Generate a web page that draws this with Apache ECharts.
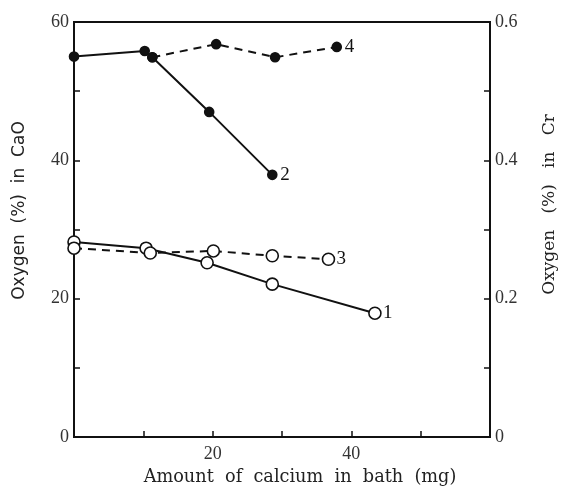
<!DOCTYPE html>
<html><head><meta charset="utf-8">
<script src="https://cdn.jsdelivr.net/npm/echarts@6/dist/echarts.min.js"></script>
<style>html,body{margin:0;padding:0;background:#fff}#c{width:561px;height:490px}</style>
</head><body><div id="c"></div>
<script>
// Oxygen in CaO (left axis, %) vs amount of calcium in bath (mg)
const series1 = [[0, 28.2], [10.4, 27.3], [19.2, 25.2], [28.6, 22.1], [43.4, 17.9]];
const series2 = [[0, 55.0], [10.2, 55.8], [11.3, 54.9], [19.5, 47.0], [28.6, 37.9]];
const series3 = [[0, 27.3], [11.0, 26.6], [20.1, 26.9], [28.6, 26.2], [36.7, 25.7]];
const series4 = [[11.3, 54.9], [20.5, 56.8], [29.0, 54.9], [37.9, 56.4]];
const seriesNames = ['1', '2', '3', '4'];
const xLabels = [20, 40];
const leftLabels = [0, 20, 40, 60];
const rightLabels = [0, 0.2, 0.4, 0.6];

const font = '"Liberation Serif", "DejaVu Serif", serif';
const tfont = '"DejaVu Serif", "Liberation Serif", serif';
const sfont = '"DejaVu Sans", "Noto Sans", sans-serif';
const chart = echarts.init(document.getElementById('c'));
function mk(name, data, filled, dashed) {
  return {
    name: name, type: 'line', data: data, yAxisIndex: 0,
    symbol: 'circle', symbolSize: filled ? 9 : 12,
    itemStyle: { color: filled ? '#111' : '#fff', borderColor: '#111', borderWidth: 1.6 },
    lineStyle: { color: '#111', width: 2, type: dashed ? [8, 6] : 'solid' },
    emphasis: { disabled: true },
    z: filled ? 3 : 4,
    endLabel: { show: true, formatter: name, color: '#111', fontFamily: font, fontSize: 19, distance: 8 },
    animation: false
  };
}
chart.setOption({
  backgroundColor: '#fff',
  animation: false,
  grid: { left: 74, right: 71, top: 22, bottom: 53, containLabel: false, outerBoundsMode: 'none',
    show: true, borderColor: '#111', borderWidth: 2, backgroundColor: 'transparent' },
  xAxis: {
    type: 'value', min: 0, max: 60, interval: 10,
    name: 'Amount  of  calcium  in  bath  (mg)', nameLocation: 'middle', nameGap: 27,
    nameTextStyle: { fontFamily: tfont, fontSize: 17.7, color: '#222', padding: [0, 0, 0, 36] },
    axisLine: { lineStyle: { color: '#111', width: 2 } },
    axisTick: { inside: true, length: 6, lineStyle: { color: '#111', width: 1.5 } },
    splitLine: { show: false },
    axisLabel: { fontFamily: font, fontSize: 18, color: '#333', margin: 8,
      formatter: v => xLabels.indexOf(v) >= 0 ? String(v) : '' }
  },
  yAxis: [{
    type: 'value', min: 0, max: 60, interval: 10, position: 'left',
    name: 'Oxygen  (%)  in  CaO', nameLocation: 'middle', nameGap: 54, nameRotate: 90,
    nameTextStyle: { fontFamily: sfont, fontSize: 17, color: '#222', verticalAlign: 'middle', padding: [0, 0, 0, 38] },
    axisLine: { show: true, lineStyle: { color: '#111', width: 2 } },
    axisTick: { show: true, inside: true, length: 6, lineStyle: { color: '#111', width: 1.5 } },
    splitLine: { show: false },
    axisLabel: { fontFamily: font, fontSize: 18, color: '#333', margin: 5,
      formatter: v => leftLabels.indexOf(v) >= 0 ? String(v) : '' }
  }, {
    type: 'value', min: 0, max: 0.6, interval: 0.1, position: 'right',
    name: 'Oxygen   (%)   in   Cr', nameLocation: 'middle', nameGap: 60, nameRotate: 90,
    nameTextStyle: { fontFamily: tfont, fontSize: 17, color: '#222', verticalAlign: 'middle', padding: [0, 0, 0, 50] },
    axisLine: { show: true, lineStyle: { color: '#111', width: 2 } },
    axisTick: { show: true, inside: true, length: 6, lineStyle: { color: '#111', width: 1.5 } },
    splitLine: { show: false },
    axisLabel: { fontFamily: font, fontSize: 18, color: '#333', margin: 5,
      formatter: v => { const r = Math.round(v * 10) / 10; return rightLabels.indexOf(r) >= 0 && Math.round(v*10) % 2 === 0 ? (r === 0 ? '0' : r.toFixed(1)) : ''; } }
  }],
  series: [
    mk(seriesNames[0], series1, false, false),
    mk(seriesNames[1], series2, true, false),
    mk(seriesNames[2], series3, false, true),
    mk(seriesNames[3], series4, true, true)
  ]
});
</script></body></html>
